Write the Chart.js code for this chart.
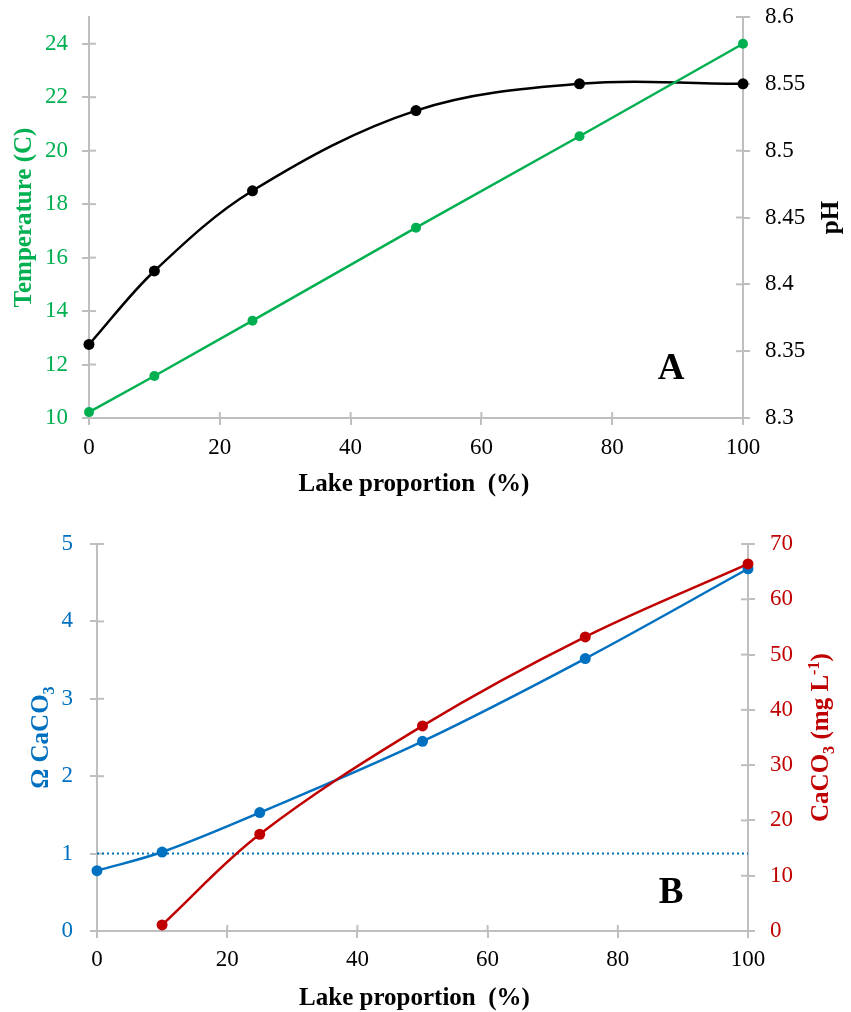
<!DOCTYPE html>
<html>
<head>
<meta charset="utf-8">
<script src="https://cdn.jsdelivr.net/npm/chart.js@4.4.1/dist/chart.umd.min.js"></script>
<style>
  html, body { margin: 0; padding: 0; background: #ffffff; }
  canvas { display: block; }
</style>
</head>
<body>
<canvas id="chartA" width="851" height="505"></canvas>
<canvas id="chartB" width="851" height="507"></canvas>
<script>
// ---------- data ----------
const lakeProportion = [0, 10, 25, 50, 75, 100];
const temperature    = [10.22, 11.57, 13.64, 17.12, 20.54, 24.0];
const pH             = [8.355, 8.41, 8.47, 8.53, 8.55, 8.55];
const omegaCaCO3     = [0.78, 1.02, 1.53, 2.45, 3.52, 4.68];
const caco3          = [null, 1.1, 17.5, 37.1, 53.2, 66.4];
const saturationX    = [0, 100];
const saturationY    = [1, 1];

// ---------- styling ----------
const SERIF = '"Liberation Serif", "Times New Roman", serif';
const GREEN = '#00B050', BLUE = '#0070C0', RED = '#C00000', BLACK = '#000000';
const AXIS = '#BFBFBF';
const TICK_SIZE = 23, TITLE_SIZE = 25;

function pts(xs, ys) { return xs.map((x, i) => ({ x: x, y: ys[i] })).filter(p => p.y !== null); }

function drawRich(ctx, segs, x, y, rot, size, color) {
  ctx.save();
  ctx.translate(x, y);
  ctx.rotate(rot);
  let total = 0;
  const parts = segs.map(s => {
    const fs = (s.sub || s.sup) ? size * 0.65 : size;
    ctx.font = 'bold ' + fs + 'px ' + SERIF;
    const w = ctx.measureText(s.t).width;
    total += w;
    return { s: s, fs: fs, w: w };
  });
  let cx = -total / 2;
  ctx.fillStyle = color;
  ctx.textBaseline = 'alphabetic';
  ctx.textAlign = 'left';
  const base = size * 0.33;
  parts.forEach(p => {
    ctx.font = 'bold ' + p.fs + 'px ' + SERIF;
    const dy = p.s.sub ? size * 0.22 : (p.s.sup ? -size * 0.36 : 0);
    ctx.fillText(p.s.t, cx, base + dy);
    cx += p.w;
  });
  ctx.restore();
}

// inner half of the crossing tick marks + rich axis titles + panel letters
const decorPlugin = {
  id: 'decor',
  beforeDatasetsDraw(chart) {
    const ctx = chart.ctx;
    const ca = chart.chartArea;
    ctx.save();
    ctx.strokeStyle = AXIS;
    ctx.lineWidth = 2;
    Object.values(chart.scales).forEach(sc => {
      sc.ticks.forEach((t, i) => {
        const p = sc.getPixelForTick(i);
        ctx.beginPath();
        if (sc.axis === 'x') { ctx.moveTo(p, ca.bottom); ctx.lineTo(p, ca.bottom - 6); }
        else if (sc.position === 'left') { ctx.moveTo(ca.left, p); ctx.lineTo(ca.left + 7, p); }
        else { ctx.moveTo(ca.right, p); ctx.lineTo(ca.right - 7, p); }
        ctx.stroke();
      });
    });
    ctx.restore();
  },
  afterDraw(chart, args, opts) {
    const ctx = chart.ctx;
    (opts.titles || []).forEach(tt => {
      const pos = tt.pos(chart);
      drawRich(ctx, tt.segs, pos[0], pos[1], tt.rot || 0, TITLE_SIZE, tt.color);
    });
    if (opts.letter) {
      const L = opts.letter;
      const px = chart.scales.x.getPixelForValue(L.x);
      const py = chart.scales[L.axis].getPixelForValue(L.y);
      ctx.save();
      ctx.font = 'bold 37px ' + SERIF;
      ctx.fillStyle = '#000';
      ctx.textAlign = 'center';
      ctx.textBaseline = 'middle';
      ctx.fillText(L.text, px, py);
      ctx.restore();
    }
  }
};

function axisCommon(color, padding) {
  return {
    grid: { display: true, drawOnChartArea: false, drawTicks: true, tickLength: 7, color: AXIS, lineWidth: 2 },
    border: { display: true, color: AXIS, width: 2 },
    ticks: { color: color, padding: padding, font: { family: SERIF, size: TICK_SIZE } }
  };
}

function fixW(v) { return function (s) { s.width = v; s.paddingTop = 0; s.paddingBottom = 0; }; }
function fixH(v) { return function (s) { s.height = v; s.paddingLeft = 0; s.paddingRight = 0; }; }

// ---------- Chart A ----------
const xA = axisCommon(BLACK, 9);
xA.type = 'linear'; xA.min = 0; xA.max = 100; xA.ticks.stepSize = 20;
xA.afterFit = fixH(87);

const yLA = axisCommon(GREEN, 14);
yLA.type = 'linear'; yLA.position = 'left'; yLA.min = 10; yLA.max = 25;
yLA.ticks.stepSize = 2; yLA.ticks.includeBounds = false;
yLA.afterFit = fixW(89);

const yRA = axisCommon(BLACK, 15);
yRA.type = 'linear'; yRA.position = 'right'; yRA.min = 8.3; yRA.max = 8.6;
yRA.ticks.stepSize = 0.05;
yRA.ticks.callback = v => String(Math.round(v * 100) / 100);
yRA.afterFit = fixW(108);

new Chart(document.getElementById('chartA'), {
  type: 'line',
  data: {
    datasets: [
      {
        label: 'Temperature', data: pts(lakeProportion, temperature), yAxisID: 'yL',
        borderColor: GREEN, backgroundColor: GREEN, borderWidth: 2.5,
        pointRadius: 5, pointBorderWidth: 0, tension: 0, clip: false, order: 0
      },
      {
        label: 'pH', data: pts(lakeProportion, pH), yAxisID: 'yR',
        borderColor: BLACK, backgroundColor: BLACK, borderWidth: 2.5,
        pointRadius: 5.5, pointBorderWidth: 0, tension: 0.35, clip: false, order: 1
      }
    ]
  },
  options: {
    responsive: false, animation: false,
    layout: { padding: { top: 17, left: 0, right: 0, bottom: 0 } },
    scales: { x: xA, yL: yLA, yR: yRA },
    plugins: {
      legend: { display: false }, tooltip: { enabled: false },
      decor: {
        titles: [
          { segs: [{ t: 'Temperature (C)' }], color: GREEN, rot: -Math.PI / 2,
            pos: c => [c.chartArea.left - 66, (c.chartArea.top + c.chartArea.bottom) / 2] },
          { segs: [{ t: 'pH' }], color: BLACK, rot: -Math.PI / 2,
            pos: c => [c.chartArea.right + 87, (c.chartArea.top + c.chartArea.bottom) / 2] },
          { segs: [{ t: 'Lake proportion  (%)' }], color: BLACK, rot: 0,
            pos: c => [(c.chartArea.left + c.chartArea.right) / 2 - 2, c.chartArea.bottom + 65] }
        ],
        letter: { text: 'A', x: 89, y: 11.83, axis: 'yL' }
      }
    }
  },
  plugins: [decorPlugin]
});

// ---------- Chart B ----------
const xB = axisCommon(BLACK, 8);
xB.type = 'linear'; xB.min = 0; xB.max = 100; xB.ticks.stepSize = 20;
xB.afterFit = fixH(81);

const yLB = axisCommon(BLUE, 17);
yLB.type = 'linear'; yLB.position = 'left'; yLB.min = 0; yLB.max = 5;
yLB.ticks.stepSize = 1;
yLB.afterFit = fixW(97);

const yRB = axisCommon(RED, 15);
yRB.type = 'linear'; yRB.position = 'right'; yRB.min = 0; yRB.max = 70;
yRB.ticks.stepSize = 10;
yRB.afterFit = fixW(103);

new Chart(document.getElementById('chartB'), {
  type: 'line',
  data: {
    datasets: [
      {
        label: 'CaCO3', data: pts(lakeProportion, caco3), yAxisID: 'yR',
        borderColor: RED, backgroundColor: RED, borderWidth: 2.5,
        pointRadius: 5.5, pointBorderWidth: 0, tension: 0.35, clip: false, order: 0
      },
      {
        label: 'Omega', data: pts(lakeProportion, omegaCaCO3), yAxisID: 'yL',
        borderColor: BLUE, backgroundColor: BLUE, borderWidth: 2.5,
        pointRadius: 5.5, pointBorderWidth: 0, tension: 0.35, clip: false, order: 1
      },
      {
        label: 'Saturation', data: pts(saturationX, saturationY), yAxisID: 'yL',
        borderColor: BLUE, borderWidth: 2, borderDash: [2, 3],
        pointRadius: 0, tension: 0, order: 2
      }
    ]
  },
  options: {
    responsive: false, animation: false,
    layout: { padding: { top: 39, left: 0, right: 0, bottom: 0 } },
    scales: { x: xB, yL: yLB, yR: yRB },
    plugins: {
      legend: { display: false }, tooltip: { enabled: false },
      decor: {
        titles: [
          { segs: [{ t: 'Ω CaCO' }, { t: '3', sub: true }], color: BLUE, rot: -Math.PI / 2,
            pos: c => [c.chartArea.left - 57, (c.chartArea.top + c.chartArea.bottom) / 2] },
          { segs: [{ t: 'CaCO' }, { t: '3', sub: true }, { t: ' (mg L' }, { t: '-1', sup: true }, { t: ')' }],
            color: RED, rot: -Math.PI / 2,
            pos: c => [c.chartArea.right + 72, (c.chartArea.top + c.chartArea.bottom) / 2] },
          { segs: [{ t: 'Lake proportion  (%)' }], color: BLACK, rot: 0,
            pos: c => [(c.chartArea.left + c.chartArea.right) / 2 - 8, c.chartArea.bottom + 66] }
        ],
        letter: { text: 'B', x: 88.2, y: 0.49, axis: 'yL' }
      }
    }
  },
  plugins: [decorPlugin]
});
</script>
</body>
</html>
